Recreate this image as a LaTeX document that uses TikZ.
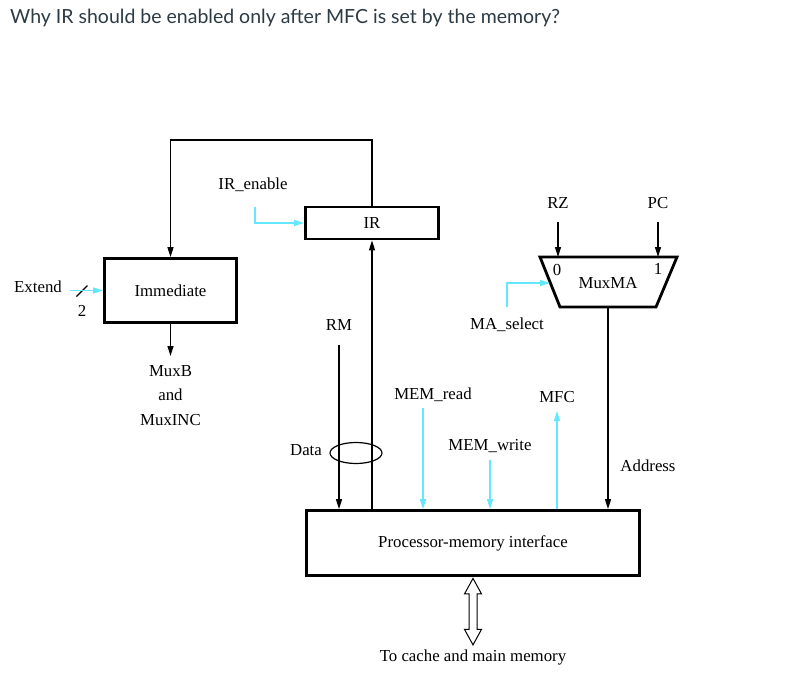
\documentclass[tikz,border=0pt]{standalone}
\usepackage{fontspec}
\setmainfont{Liberation Serif}
\newfontfamily\questionfont{Lato}
\usetikzlibrary{calc,positioning,arrows.meta,shapes.geometric}
\definecolor{ctrlcyan}{RGB}{100,232,255}
\definecolor{questiongray}{RGB}{45,59,69}
\tikzset{
 dp block/.style={draw,line width=2.8pt,inner sep=0pt,font=\fontsize{16.8}{18}\selectfont},
 dp wire/.style={line width=1.3pt,-{Triangle[length=10pt,width=6pt]}},
 dp ctrl/.style={ctrlcyan,line width=1.3pt,-{Triangle[length=10pt,width=6pt]}},
 dp label/.style={inner sep=0pt,font=\fontsize{16.8}{18}\selectfont}
}
\begin{document}
\begin{tikzpicture}[x=1pt,y=-1pt]
 \useasboundingbox[fill=white] (0,0) rectangle (790,682);
 \node[anchor=west,inner sep=0pt,text=questiongray,font=\questionfont\fontsize{19.5}{22}\selectfont]
   (question) at (10,18) {Why IR should be enabled only after MFC is set by the memory?};

 % blocks
 \node[dp block,minimum width=133pt,minimum height=32pt] (ir) at (372,223) {IR};
 \node[dp block,minimum width=132pt,minimum height=64pt] (imm) at (170.5,290.5) {Immediate};
 \node[dp block,minimum width=333pt,minimum height=65pt] (pmi) at (473,543) {Processor-memory interface};
 \coordinate (mtl) at (540,257); \coordinate (mtr) at (677,257);
 \coordinate (mbr) at (656,307); \coordinate (mbl) at (560,307);
 \draw[line width=2.8pt,line join=miter] (mtl)--(mtr)--(mbr)--(mbl)--cycle;
 \node[dp label] (muxma) at (608,283) {MuxMA};
 \node[dp label] (mux0) at (557,270) {0};
 \node[dp label] (mux1) at (658,269) {1};

 % labels
 \node[dp label] (irenable) at (253,185) {IR\_enable};
 \node[dp label] (extend) at (38,287) {Extend};
 \node[dp label] (two) at (82,311) {2};
 \node[dp label,align=center,anchor=north,inner ysep=9pt,font=\fontsize{16.8}{24.5}\selectfont]
   (muxb) at (170.5,356) {MuxB\\and\\MuxINC};
 \node[dp label] (rm) at (339,325) {RM};
 \node[dp label] (data) at (306,450) {Data};
 \node[dp label] (memread) at (433,395) {MEM\_read};
 \node[dp label] (memwrite) at (490,446) {MEM\_write};
 \node[dp label] (mfc) at (557,397) {MFC};
 \node[dp label] (address) at (648,466) {Address};
 \node[dp label] (maselect) at (507,325) {MA\_select};
 \node[dp label] (rz) at (558,203) {RZ};
 \node[dp label] (pc) at (658,203) {PC};
 \node[dp label] (memory) at (473,657) {To cache and main memory};

 % free ends
 \coordinate (irein) at (255,207);
 \coordinate (extin) at (70,290.5);
 \coordinate (rmin) at (339,345);
 \coordinate (rdin) at (423,408);
 \coordinate (wrin) at (490,460);
 \coordinate (mfcout) at (557,411);
 \coordinate (selin) at (507,307);
 \coordinate (selend) at (550,283);
 \coordinate (rzin) at (558,222);
 \coordinate (pcin) at (658,222);
 \coordinate (fbtop) at (0,140);

 % datapath
 \draw[dp wire] (ir.north) -- (ir.north |- fbtop) -| (imm.north);
 \draw[dp wire] (imm.south) -- (muxb.north);
 \draw[dp wire] (pmi.north -| ir.south) -- (ir.south);
 \draw[dp wire] (rmin) -- (rmin |- pmi.north);
 \draw[dp wire] (rzin) -- (rzin |- mtl);
 \draw[dp wire] (pcin) -- (pcin |- mtr);
 \draw[dp wire] (muxma |- mbl) -- (muxma |- pmi.north);
 \node[draw,ellipse,line width=1.2pt,minimum width=52pt,minimum height=21pt] (bus) at (356,453) {};
 \draw[line width=1.2pt] (76.5,296.5) -- (87.5,285.5);

 % control signals
 \draw[dp ctrl] (irein) |- (ir.west);
 \draw[dp ctrl] (extin) -- (imm.west);
 \draw[dp ctrl] (selin) |- (selend);
 \draw[dp ctrl] (rdin) -- (rdin |- pmi.north);
 \draw[dp ctrl] (wrin) -- (wrin |- pmi.north);
 \draw[dp ctrl] (mfcout |- pmi.north) -- (mfcout);

 % to memory
 \draw[line width=1pt,line join=miter] ([yshift=-1.5pt]pmi.south) -- ++(8.5,15.5) -- ++(-4.5,0)
   -- ++(0,35.5) -- ++(4.5,0) -- ++(-8.5,15.5) -- ++(-8.5,-15.5) -- ++(4.5,0)
   -- ++(0,-35.5) -- ++(-4.5,0) -- cycle;
\end{tikzpicture}
\end{document}
